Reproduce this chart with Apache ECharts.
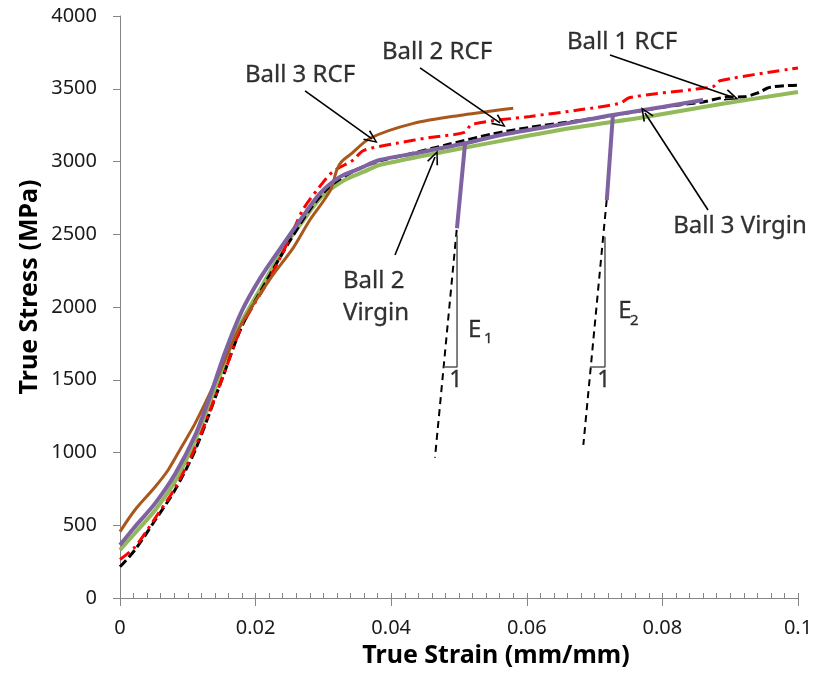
<!DOCTYPE html>
<html>
<head>
<meta charset="utf-8">
<script src="https://cdn.jsdelivr.net/npm/echarts@6/dist/echarts.min.js"></script>
<style>
  html, body { margin: 0; padding: 0; background: #fff; }
  #chart { width: 816px; height: 674px; }
</style>
</head>
<body>
<div id="chart"></div>
<script>
// ---- Data ----
const xTicks = [0, 0.02, 0.04, 0.06, 0.08, 0.1];
const yTicks = [0, 500, 1000, 1500, 2000, 2500, 3000, 3500, 4000];

// Ball 1 RCF (black dashed)
const ball1RcfStrain = [0, 0.0022, 0.0052, 0.0081, 0.0111, 0.0150, 0.0180, 0.0215, 0.0250, 0.0280, 0.0310, 0.0345, 0.0380, 0.0430, 0.0482, 0.0550, 0.0605, 0.0678, 0.0750, 0.0810, 0.0860, 0.0895, 0.0920, 0.0940, 0.0959, 0.1000];
const ball1RcfStress = [215, 330, 536, 742, 1017, 1498, 1870, 2170, 2450, 2670, 2830, 2935, 3000, 3055, 3115, 3190, 3235, 3282, 3335, 3380, 3409, 3443, 3445, 3470, 3510, 3525];

// Ball 2 RCF (red dash-dot)
const ball2RcfStrain = [0, 0.0022, 0.0052, 0.0081, 0.0111, 0.0150, 0.0180, 0.0221, 0.0250, 0.0270, 0.0295, 0.0314, 0.0344, 0.0359, 0.0408, 0.0457, 0.0508, 0.0519, 0.0605, 0.0678, 0.0737, 0.0752, 0.0850, 0.0875, 0.0885, 0.1000];
const ball2RcfStress = [265, 350, 550, 755, 1035, 1498, 1870, 2200, 2470, 2670, 2830, 2930, 3010, 3075, 3125, 3165, 3200, 3255, 3310, 3355, 3400, 3440, 3498, 3515, 3555, 3643];

// Ball 3 RCF (brown)
const ball3RcfStrain = [0, 0.0022, 0.0052, 0.0071, 0.0091, 0.0111, 0.0140, 0.0177, 0.0221, 0.0256, 0.0280, 0.0310, 0.0320, 0.0327, 0.0339, 0.0369, 0.0433, 0.0506, 0.0580];
const ball3RcfStress = [456, 605, 765, 880, 1040, 1202, 1480, 1865, 2190, 2410, 2598, 2800, 2945, 3000, 3045, 3160, 3262, 3320, 3366];

// Ball 2 Virgin (purple) main curve
const ball2VirginStrain = [0, 0.0022, 0.0052, 0.0081, 0.0111, 0.0133, 0.0155, 0.0180, 0.0207, 0.0236, 0.0266, 0.0295, 0.0325, 0.0354, 0.0383, 0.0440, 0.0509, 0.0560, 0.0659, 0.0727, 0.0800, 0.0860];
const ball2VirginStress = [364, 490, 652, 850, 1120, 1390, 1690, 1975, 2200, 2400, 2598, 2781, 2896, 2953, 3010, 3060, 3125, 3180, 3262, 3320, 3375, 3423];
// Ball 2 Virgin unloading segments
const unload1Strain = [0.0509, 0.0497];
const unload1Stress = [3125, 2541];
const unload2Strain = [0.0727, 0.0718];
const unload2Stress = [3320, 2735];

// Ball 3 Virgin (green)
const ball3VirginStrain = [0, 0.0022, 0.0052, 0.0081, 0.0111, 0.0145, 0.0172, 0.0210, 0.0245, 0.0268, 0.0298, 0.0330, 0.0360, 0.0383, 0.0482, 0.0560, 0.0664, 0.0777, 0.0880, 0.1000];
const ball3VirginStress = [330, 445, 605, 800, 1086, 1498, 1830, 2150, 2430, 2580, 2760, 2870, 2930, 2976, 3070, 3140, 3228, 3308, 3390, 3478];

// Elastic modulus construction lines
const e1LineStrain = [0.04966, 0.04646];
const e1LineStress = [2530, 965];
const e2LineStrain = [0.07178, 0.06834];
const e2LineStress = [2735, 1052];
const e1TriStrain = [0.04771, 0.04971, 0.04971];
const e1TriStress = [1588, 1588, 2495];
const e2TriStrain = [0.06932, 0.07153, 0.07153];
const e2TriStress = [1588, 1588, 2483];

// Annotation labels [strain, stress]
const labelTexts = ['Ball 3 RCF', 'Ball 2 RCF', 'Ball 1 RCF', 'Ball 3 Virgin'];
const labelStrain = [0.02655, 0.04676, 0.07404, 0.09145];
const labelStress = [3595, 3753, 3821, 2557];
const ball2VirginLabel = 'Ball 2\nVirgin';
const ball2VirginLabelPos = [0.03289, 2069];
const modulusTexts = ['E', 'E'];
const modulusStrain = [0.05133, 0.07349];
const modulusStress = [1839, 1968];
const modulusSubTexts = ['1', '2'];
const modulusSubStrain = [0.05369, 0.07522];
const modulusSubStress = [1780, 1907];
const unitTexts = ['1', '1'];
const unitStrain = [0.04953, 0.07136];
const unitStress = [1498, 1498];

// Arrows: start -> end
const arrowStartStrain = [0.02729, 0.04425, 0.07227, 0.08673, 0.04056];
const arrowStartStress = [3485, 3643, 3732, 2667, 2357];
const arrowEndStrain = [0.03717, 0.05605, 0.09027, 0.07743, 0.04646];
const arrowEndStress = [3155, 3265, 3443, 3333, 3031];

const zip = (xs, ys) => xs.map((x, i) => [x, ys[i]]);
const named = (names, xs, ys) => names.map((n, i) => ({ name: n, value: [xs[i], ys[i]] }));

const FONT = '"Noto Sans", "DejaVu Sans", sans-serif';
const chart = echarts.init(document.getElementById('chart'), null, { renderer: 'canvas' });

function curve(name, xs, ys, color, width, type, smooth) {
  return {
    name, type: 'line', data: zip(xs, ys), showSymbol: false, symbol: 'none',
    smooth: smooth, lineStyle: { color, width, type, cap: 'butt' }, silent: true, z: 3
  };
}

function textSeries(data, fontSize, position, extra) {
  return {
    type: 'scatter', symbolSize: 0, silent: true, z: 6,
    data: data,
    label: Object.assign({
      show: true, position: position, distance: 0, color: '#000',
      fontFamily: FONT, fontSize: fontSize,
      textBorderColor: '#000', textBorderWidth: 0.3,
      formatter: p => p.name
    }, extra || {})
  };
}

const arrowHead = 'path://M6,0 L12,14 L10.4,14.6 L6,3.6 L1.6,14.6 L0,14 Z';

const option = {
  animation: false,
  backgroundColor: '#ffffff',
  grid: { left: 120, right: 18, top: 16, bottom: 76, containLabel: false },
  xAxis: [{
    type: 'value', min: xTicks[0], max: xTicks[xTicks.length - 1], interval: 0.02,
    axisLine: { show: true, lineStyle: { color: '#868686', width: 1 } },
    axisTick: { show: true, inside: true, length: 5, lineStyle: { color: '#868686' } },
    minorTick: { show: true, splitNumber: 10, length: 5, lineStyle: { color: '#868686' } },
    axisLabel: { color: '#1a1a1a', fontFamily: FONT, fontSize: 20, margin: 20,
      formatter: v => String(+v.toFixed(3)) },
    splitLine: { show: false }, minorSplitLine: { show: false }
  }, {
    type: 'value', min: 0, max: 0.1, interval: 0.02, position: 'bottom', offset: 0,
    axisLine: { show: true, lineStyle: { color: 'rgba(0,0,0,0)', width: 1 } },
    axisTick: { show: true, inside: false, length: 8, lineStyle: { color: '#868686' } },
    axisLabel: { show: false }, splitLine: { show: false }
  }],
  yAxis: {
    type: 'value', min: yTicks[0], max: yTicks[yTicks.length - 1], interval: 500,
    axisLine: { show: true, lineStyle: { color: '#868686', width: 1 } },
    axisTick: { show: true, inside: false, length: 7, lineStyle: { color: '#868686' } },
    axisLabel: { color: '#1a1a1a', fontFamily: FONT, fontSize: 20, margin: 23,
      formatter: v => String(v) },
    splitLine: { show: false }
  },
  graphic: [
    { type: 'text', x: 30, y: 287, rotation: Math.PI / 2, z: 10,
      style: { text: 'True Stress (MPa)', font: 'bold 25px ' + FONT, fill: '#000',
        textAlign: 'center', textVerticalAlign: 'middle' } },
    { type: 'text', x: 496, y: 656, z: 10,
      style: { text: 'True Strain (mm/mm)', font: 'bold 25px ' + FONT, fill: '#000',
        textAlign: 'center', textVerticalAlign: 'middle' } }
  ],
  series: [
    curve('Ball 3 Virgin', ball3VirginStrain, ball3VirginStress, '#92BA5A', 4, 'solid', 0.3),
    curve('Ball 1 RCF', ball1RcfStrain, ball1RcfStress, '#000000', 3, [9, 4], 0.3),
    curve('Ball 2 RCF', ball2RcfStrain, ball2RcfStress, '#FF0000', 3, [12, 5, 3, 5], 0.3),
    curve('Ball 3 RCF', ball3RcfStrain, ball3RcfStress, '#A8581C', 3, 'solid', 0.3),
    curve('Ball 2 Virgin', ball2VirginStrain, ball2VirginStress, '#7E62A1', 4, 'solid', 0.3),
    curve('Ball 2 Virgin unload 1', unload1Strain, unload1Stress, '#7E62A1', 4, 'solid', false),
    curve('Ball 2 Virgin unload 2', unload2Strain, unload2Stress, '#7E62A1', 4, 'solid', false),
    curve('E1 slope', e1LineStrain, e1LineStress, '#000000', 2, [7, 5], false),
    curve('E2 slope', e2LineStrain, e2LineStress, '#000000', 2, [7, 5], false),
    curve('E1 triangle', e1TriStrain, e1TriStress, '#555555', 1.5, 'solid', false),
    curve('E2 triangle', e2TriStrain, e2TriStress, '#555555', 1.5, 'solid', false),
    {
      type: 'line', data: [], silent: true, z: 5,
      markLine: {
        silent: true, animation: false,
        symbol: ['none', arrowHead], symbolSize: [12, 14],
        label: { show: false },
        lineStyle: { color: '#000', width: 1.6, type: 'solid' },
        data: arrowStartStrain.map((x, i) => [
          { coord: [x, arrowStartStress[i]] },
          { coord: [arrowEndStrain[i], arrowEndStress[i]] }
        ])
      }
    },
    textSeries(named(labelTexts, labelStrain, labelStress), 24, 'inside'),
    textSeries([{ name: ball2VirginLabel, value: ball2VirginLabelPos }], 24, 'right', { lineHeight: 32, align: 'left' }),
    textSeries(named(modulusTexts, modulusStrain, modulusStress), 24, 'right'),
    textSeries(named(modulusSubTexts, modulusSubStrain, modulusSubStress), 15, 'right'),
    textSeries(named(unitTexts, unitStrain, unitStress), 23, 'inside')
  ]
};
chart.setOption(option);
</script>
</body>
</html>
